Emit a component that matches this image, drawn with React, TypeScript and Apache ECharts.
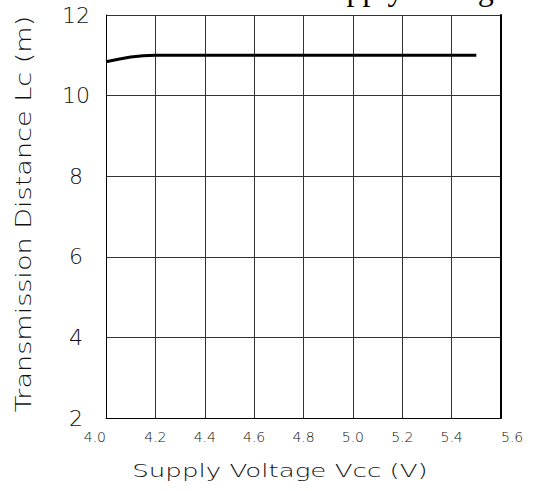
import React, { useEffect, useRef } from "react";
import * as echarts from "echarts";

const voltage = [4.0, 4.05, 4.1, 4.15, 4.2, 4.6, 5.0, 5.5];
const distance = [10.84, 10.9, 10.96, 10.99, 11.0, 11.0, 11.0, 11.0];
const xTitle = "Supply Voltage Vcc (V)";
const yTitle = "Transmission Distance Lc (m)";
const chartTitle = "Supply Voltage";

const FONT = "DejaVu Sans";

export default function App() {
  const ref = useRef<HTMLDivElement>(null);
  useEffect(() => {
    if (!ref.current) return;
    const chart = echarts.init(ref.current, undefined, { renderer: "svg" });
    chart.setOption({
      animation: false,
      backgroundColor: "#fff",
      grid: { left: 106, right: 33, top: 15, bottom: 73, show: false },
      graphic: [
        {
          type: "text",
          x: 508,
          y: -11,
          style: {
            text: chartTitle,
            font: "32px 'Liberation Serif'",
            fill: "#000",
            textAlign: "right",
            textVerticalAlign: "middle",
          },
        },
        {
          type: "text",
          x: 280,
          y: 471,
          scaleX: 1.45,
          style: {
            text: xTitle,
            font: `200 18px '${FONT}'`,
            fill: "#111",
            textAlign: "center",
            textVerticalAlign: "middle",
          },
        },
        {
          type: "text",
          x: 24,
          y: 214,
          rotation: Math.PI / 2,
          scaleX: 1.29,
          style: {
            text: yTitle,
            font: `200 21px '${FONT}'`,
            fill: "#111",
            textAlign: "center",
            textVerticalAlign: "middle",
          },
        },
      ],
      xAxis: {
        type: "value",
        min: 4.0,
        max: 5.6,
        interval: 0.2,
        axisLine: { show: true, onZero: false, lineStyle: { color: "#000", width: 1 } },
        axisTick: { show: false },
        axisLabel: {
          fontFamily: FONT,
          fontSize: 14,
          fontWeight: 200,
          color: "#111",
          margin: 12,
          alignMinLabel: "right",
          alignMaxLabel: "left",
          formatter: (v: number) => v.toFixed(1),
        },
        splitLine: { show: true, lineStyle: { color: "#333", width: 1 } },
      },
      yAxis: [
        {
          type: "value",
          min: 2,
          max: 12,
          interval: 2,
          axisLine: { show: true, onZero: false, lineStyle: { color: "#000", width: 1 } },
          axisTick: { show: false },
          axisLabel: {
            fontFamily: FONT,
            fontSize: 22,
            fontWeight: 200,
            color: "#111",
            margin: 30,
            align: "center",
          },
          splitLine: { show: true, lineStyle: { color: "#333", width: 1 } },
        },
        {
          type: "value",
          min: 2,
          max: 12,
          interval: 2,
          position: "right",
          axisLine: { show: true, onZero: false, lineStyle: { color: "#000", width: 2 } },
          axisTick: { show: false },
          axisLabel: { show: false },
          splitLine: { show: false },
        },
      ],
      series: [
        {
          type: "line",
          data: voltage.map((v, i) => [v, distance[i]]),
          showSymbol: false,
          lineStyle: { color: "#000", width: 3 },
          z: 5,
        },
      ],
    });
    return () => chart.dispose();
  }, []);
  return (
    <div
      ref={ref}
      style={{ position: "absolute", left: 0, top: 0, width: 534, height: 491 }}
    />
  );
}
